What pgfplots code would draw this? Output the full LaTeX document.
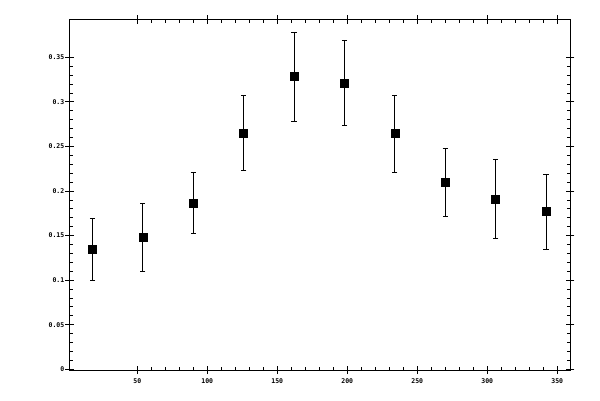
\documentclass[border=0pt]{standalone}
\usepackage{fontspec}
\setmainfont{DejaVu Sans Mono}
\usepackage{pgfplots}
\pgfplotsset{compat=1.18}

\begin{document}
\begin{tikzpicture}[x=1pt,y=1pt]
  \fill[white] (0,0) rectangle (600,400);
  \begin{axis}[
      at={(69.5pt,30pt)}, anchor=south west,
      scale only axis,
      width=500.8pt, height=350.5pt,
      xmin=1.6, xmax=359.3,
      ymin=-0.0008, ymax=0.3924,
      xtick={50,100,...,350},
      ytick={0,0.05,...,0.35},
      minor x tick num=4,
      minor y tick num=4,
      tick align=inside,
      major tick length=4pt,
      minor tick length=3.3pt,
      extra x ticks={50,100,...,350},
      extra x tick labels={},
      extra y ticks={0,0.05,...,0.35},
      extra y tick labels={},
      extra tick style={tick align=outside, major tick length=4pt},
      axis line style={line width=0.8pt},
      tick style={line width=0.8pt, black},
      /pgf/number format/assume math mode=true,
      tick label style={font=\fontsize{6.5}{7.5}\selectfont\bfseries},
      xticklabel style={anchor=north, inner sep=0pt, yshift=-8pt},
      yticklabel style={anchor=east, inner sep=0pt, xshift=-5pt},
      y tick label style={/pgf/number format/fixed},
    ]
    \addplot[
      only marks, black,
      mark=square*, mark size=4pt,
      error bars/.cd,
        y dir=both, y explicit,
        error bar style={line width=0.8pt, black},
        error mark options={rotate=90, mark size=2.6pt, line width=0.8pt, black},
    ] table[x=x, y=y, y error plus=ep, y error minus=em] {
      x    y       ep      em
      18   0.1346  0.0348  0.0344
      54   0.1480  0.0382  0.0380
      90   0.1862  0.0348  0.0333
      126  0.2648  0.0422  0.0416
      162  0.3287  0.0493  0.0501
      198  0.3208  0.0482  0.0471
      234  0.2648  0.0422  0.0438
      270  0.2098  0.0382  0.0382
      306  0.1907  0.0449  0.0437
      342  0.1772  0.0419  0.0422
    };
  \end{axis}
\end{tikzpicture}
\end{document}
